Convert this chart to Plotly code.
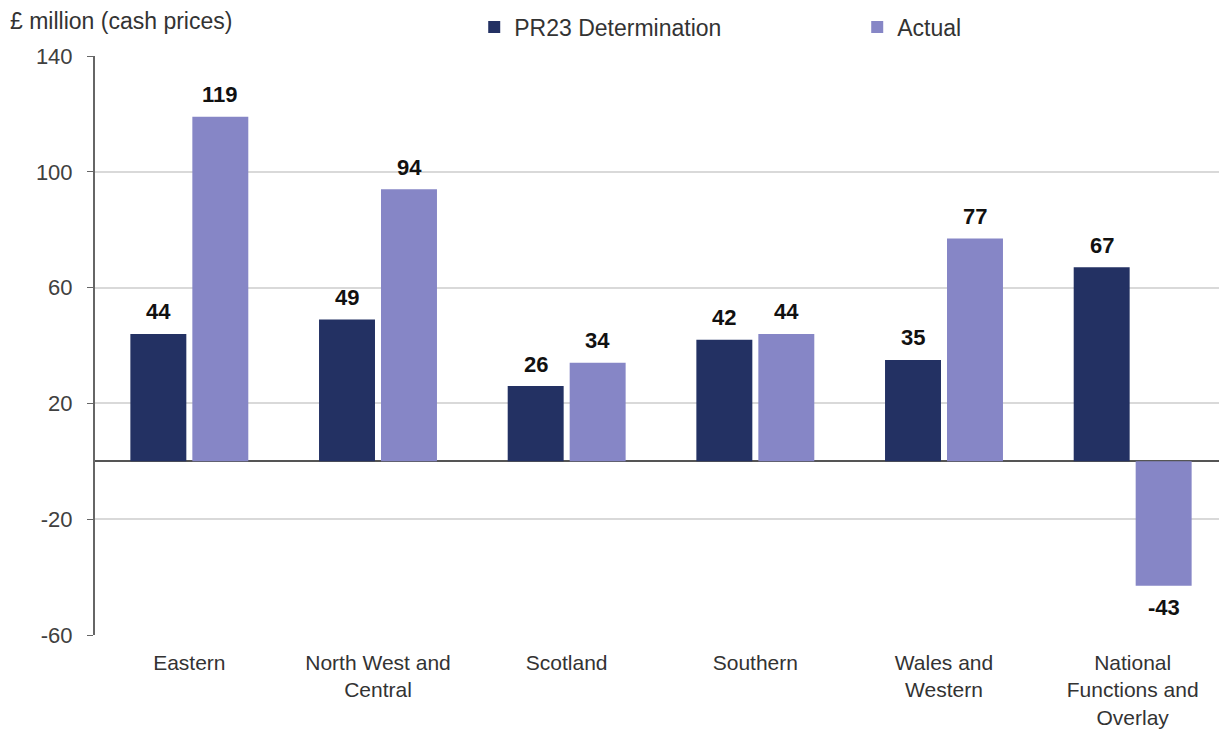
import plotly.graph_objects as go

# Data
regions = ["Eastern", "North West and<br>Central", "Scotland", "Southern",
           "Wales and<br>Western", "National<br>Functions and<br>Overlay"]
pr23 = [44, 49, 26, 42, 35, 67]
actual = [119, 94, 34, 44, 77, -43]
y_ticks = [-60, -20, 20, 60, 100, 140]
y_tick_text = ["-60", "-20", "20", "60", "100", "140"]

DARK = "#233163"
LIGHT = "#8686c6"

fig = go.Figure()

fig.add_trace(go.Bar(
    x=regions, y=pr23, name="PR23 Determination",
    marker=dict(color=DARK, line=dict(width=0)),
))
fig.add_trace(go.Bar(
    x=regions, y=actual, name="Actual",
    marker=dict(color=LIGHT, line=dict(width=0)),
))

# Verdier over / under søylene
label_font = dict(size=22, color="#111", family="Liberation Sans", weight="bold")
for serie, dx in ((pr23, -31), (actual, 31)):
    for reg, v in zip(regions, serie):
        fig.add_annotation(
            x=reg, y=v, xref="x", yref="y",
            text=str(v), showarrow=False,
            xshift=dx, yshift=22 if v >= 0 else -22,
            font=label_font,
        )

# Tittel for y-aksen oppe til venstre
fig.add_annotation(
    x=-0.077, y=1.06, xref="paper", yref="paper",
    xanchor="left", yanchor="middle",
    text="£ million (cash prices)", showarrow=False,
    font=dict(size=23, color="#333", family="Liberation Sans"),
)

# body har 8px marg i html-siden, derfor litt mindre figur
fig.update_layout(
    width=1219, height=721,
    barmode="group", bargap=0.343, bargroupgap=0.097,
    plot_bgcolor="white", paper_bgcolor="white",
    margin=dict(l=87, r=0, t=48, b=94, autoexpand=False),
    font=dict(family="Liberation Sans", size=22, color="#404040"),
    legend=dict(
        orientation="h", x=0.335, y=1.05, xanchor="left", yanchor="middle",
        entrywidth=338, entrywidthmode="pixels",
        font=dict(size=23, color="#333"), itemwidth=30,
        bgcolor="rgba(0,0,0,0)",
    ),
    xaxis=dict(
        showgrid=False, showline=False, ticks="",
        tickfont=dict(size=21, color="#333"),
        ticklabelstandoff=13,
    ),
    yaxis=dict(
        range=[-60, 140], tickvals=y_ticks, ticktext=y_tick_text,
        showgrid=True, gridcolor="#d9d9d9", gridwidth=2,
        zeroline=True, zerolinecolor="#555", zerolinewidth=2,
        showline=True, linecolor="#666", linewidth=2,
        ticks="outside", ticklen=6, tickcolor="#666",
        tickfont=dict(size=22, color="#404040"),
        ticklabelstandoff=10,
    ),
)

fig.write_html("out.html")
